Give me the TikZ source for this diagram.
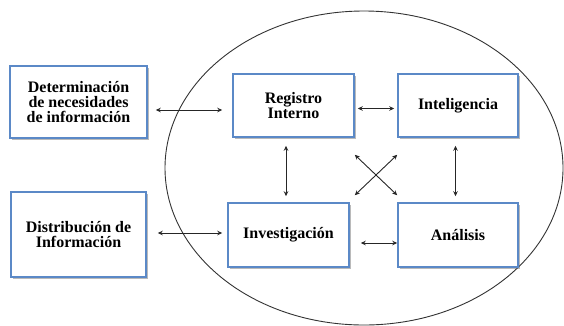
\documentclass[tikz,border=0pt]{standalone}
\usepackage{fontspec}
\setmainfont{Liberation Serif}
\usetikzlibrary{calc,shadows,arrows.meta}

\definecolor{cajaazul}{RGB}{91,137,199}

\tikzset{
	caja/.style={draw=cajaazul, line width=1.5pt, fill=white, align=center,
		font=\fontsize{16}{15}\selectfont\bfseries, inner sep=2pt,
		drop shadow={shadow xshift=1.5pt, shadow yshift=-2pt, fill=black!60, opacity=0.45}},
	flecha/.style={<->, line width=0.9pt, black!85}
}

\begin{document}
\begin{tikzpicture}[x=1pt, y=-1pt, >={Stealth[length=5pt, width=4.5pt]}]
	\useasboundingbox (0, 0) rectangle (564, 325);
	\draw [line width=0.9pt, black!80] (364, 168) ellipse [x radius=199, y radius=157];
	% cajas
	\node [caja, minimum width=137pt, minimum height=72pt] (det) at (78.5, 102) {Determinación\\de necesidades\\de información};
	\node [caja, minimum width=121pt, minimum height=63pt] (reg) at (293.5, 105.5) {Registro\\Interno};
	\node [caja, minimum width=120pt, minimum height=63pt] (intel) at (458, 105.5) {Inteligencia};
	\node [caja, minimum width=135pt, minimum height=85pt] (dist) at (78.5, 234.5) {Distribución de\\Información};
	\node [caja, minimum width=121pt, minimum height=64pt] (inv) at (288.5, 235) {Investigación};
	\node [caja, minimum width=120pt, minimum height=64pt] (ana) at (458, 235) {Análisis};
	% flechas
	\draw [flecha] ($(det.east) + (8, 8)$) -- ($(reg.west) + (-10, 4.5)$);
	\draw [flecha] ($(reg.east) + (3, 3)$) -- ($(intel.west) + (-3, 3)$);
	\draw [flecha] ($(reg.south) + (-7.5, 8)$) -- ($(inv.north) + (-2.5, -6)$);
	\draw [flecha] ($(intel.south) + (-2.5, 8)$) -- ($(ana.north) + (-2.5, -6)$);
	\draw [flecha] ($(reg.south east) + (0, 17)$) -- ($(ana.north west) + (0, -7)$);
	\draw [flecha] ($(intel.south west) + (0, 17)$) -- ($(inv.north east) + (5, -7)$);
	\draw [flecha] ($(dist.east) + (11, -1.5)$) -- ($(inv.west) + (-5, -2)$);
	\draw [flecha] ($(inv.east) + (11, 8)$) -- ($(ana.west) + (0, 8)$);
\end{tikzpicture}
\end{document}
